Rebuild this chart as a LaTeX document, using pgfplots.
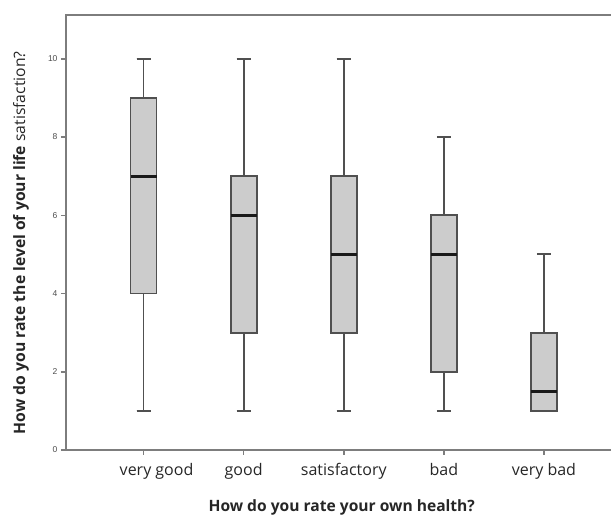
\documentclass[border=0pt]{standalone}
\usepackage{fontspec}
\setmainfont{Open Sans}
\newfontfamily\tickfont{Liberation Sans}
\usepackage{pgfplots}
\pgfplotsset{compat=1.18}
\usepgfplotslibrary{statistics}
\definecolor{boxfill}{RGB}{204,204,204}
\definecolor{boxline}{RGB}{80,80,80}
\definecolor{axline}{RGB}{125,125,125}
\pgfplotsset{
  mybox/.style={draw=boxline, line width=1.8pt, fill=boxfill, solid, mark=none,
    boxplot/every box/.style={draw=boxline, fill=boxfill, line width=1.8pt},
    boxplot/every whisker/.style={draw=boxline, line width=1.8pt},
    boxplot/every median/.style={draw=black!90, line width=3pt}},
}
\begin{document}
\begin{tikzpicture}
\begin{axis}[
  scale only axis, width=545pt, height=435pt,
  xmin=0.225, xmax=5.67, ymin=0, ymax=11.12,
  clip=false,
  axis line style={draw=none},
  xtick={1,2,3,4,5},
  xticklabels={\hspace*{26pt}very good,good,satisfactory,bad,very bad},
  ytick={0,2,4,6,8,10},
  tick pos=left, tick align=outside,
  major tick length=5pt,
  tick style={axline, line width=1.5pt},
  /pgf/number format/assume math mode=true,
  x tick label style={font=\fontsize{16}{19}\selectfont, text=black!85, yshift=-5pt},
  y tick label style={font=\tickfont\fontsize{8.5}{10}\selectfont, text=black!70},
  xlabel={\textbf{How do you rate your own health?}},
  xlabel style={font=\fontsize{15.6}{18}\selectfont, text=black!85, at={(axis description cs:0.506,-0.131)}, anchor=center},
  ylabel={\textbf{How do you rate the level of your life} satisfaction?},
  ylabel style={font=\fontsize{15.7}{18}\selectfont, text=black!85, at={(axis description cs:-0.0826,0.476)}, anchor=center},
  boxplot/draw direction=y,
  boxplot/box extend=0.26,
  boxplot/whisker extend=0.14,
]
\addplot[mybox, boxplot prepared={draw position=1, lower whisker=1, lower quartile=4, median=7, upper quartile=9, upper whisker=10}] coordinates {};
\addplot[mybox, boxplot prepared={draw position=1, lower whisker=1, lower quartile=4, median=7, upper quartile=9, upper whisker=10}] coordinates {};
\addplot[mybox, boxplot prepared={draw position=2, lower whisker=1, lower quartile=3, median=6, upper quartile=7, upper whisker=10}] coordinates {};
\addplot[mybox, boxplot prepared={draw position=3, lower whisker=1, lower quartile=3, median=5, upper quartile=7, upper whisker=10}] coordinates {};
\addplot[mybox, boxplot prepared={draw position=4, lower whisker=1, lower quartile=2, median=5, upper quartile=6, upper whisker=8}] coordinates {};
\addplot[mybox, boxplot prepared={draw position=5, lower whisker=1, lower quartile=1, median=1.5, upper quartile=3, upper whisker=5}] coordinates {};
\draw[axline, line width=1.8pt] (rel axis cs:0,0) -- (rel axis cs:1,0);
\draw[axline, line width=1.8pt] (rel axis cs:0,0) -- (rel axis cs:0,1) -- (rel axis cs:1,1);
\end{axis}
\pgfresetboundingbox
\path[use as bounding box] (-66pt,-68pt) rectangle (545pt,450pt);
\end{tikzpicture}
\end{document}
